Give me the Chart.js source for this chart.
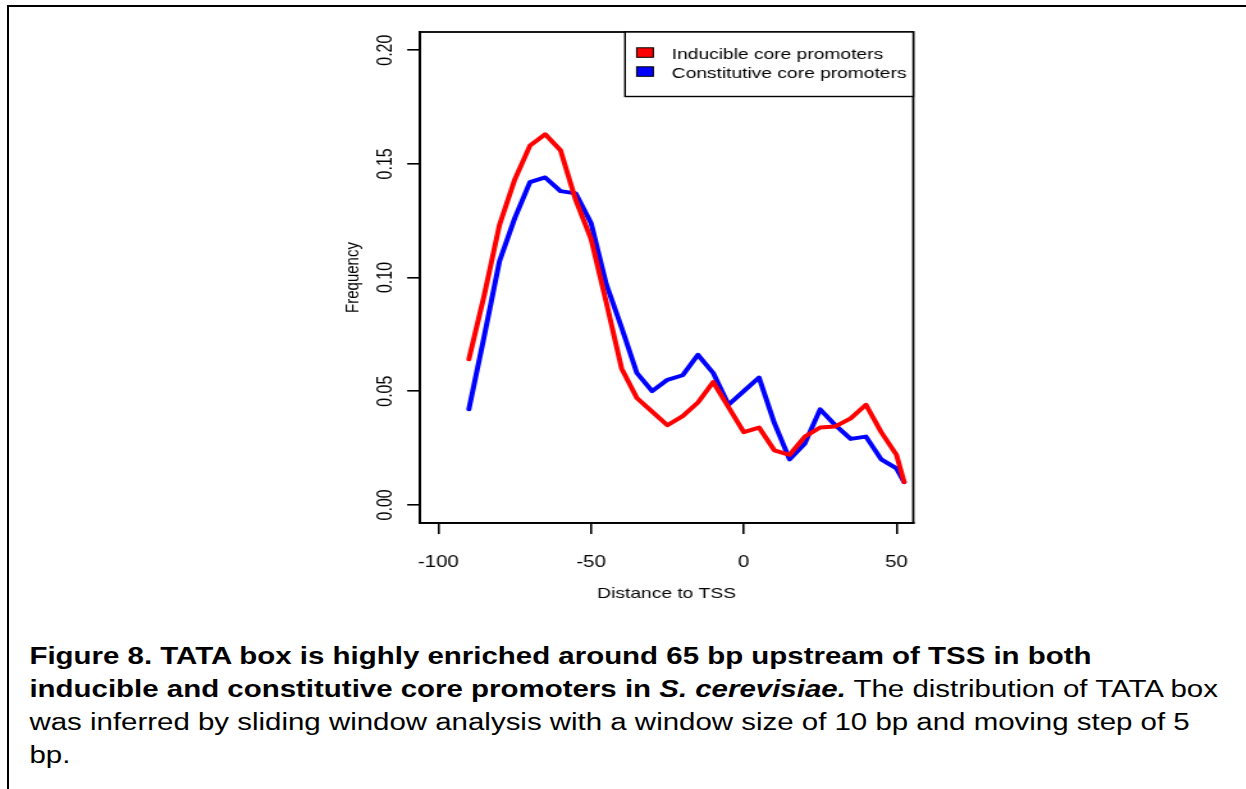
<!DOCTYPE html>
<html>
<head>
<meta charset="utf-8">
<title>TATA box distribution</title>
<script src="https://cdn.jsdelivr.net/npm/chart.js@4.4.1/dist/chart.umd.min.js"></script>
<style>
  body { margin: 0; width: 1246px; height: 789px; background: #fff; overflow: hidden; position: relative;
         font-family: "Liberation Sans", Arial, sans-serif; color: #000; }
  .marco { position: absolute; left: 7px; top: 5px; width: 1250px; height: 800px;
           border-top: 2px solid #000; border-left: 2px solid #000; }
  /* la figura original esta estirada en horizontal */
  .estirado { position: absolute; left: 0; width: 973px; transform: scaleX(1.28); transform-origin: 0 0; }
  #zona-grafico { top: 0; height: 610px; }
  #pie { top: 640px; font-size: 23px; line-height: 33px; padding-left: 23px; white-space: nowrap; }
</style>
</head>
<body>
<div class="marco"></div>
<div class="estirado" id="zona-grafico"><canvas id="grafico"></canvas></div>
<div class="estirado" id="pie"><b>Figure 8. TATA box is highly enriched around 65 bp upstream of TSS in both</b><br><b>inducible and constitutive core promoters in <i>S. cerevisiae.</i></b> The distribution of TATA box<br>was inferred by sliding window analysis with a window size of 10 bp and moving step of 5<br>bp.</div>
<script>
// Datos (distancia al TSS y frecuencia)
const distancia = [-90, -85, -80, -75, -70, -65, -60, -55, -50, -45, -40, -35, -30, -25, -20,
                   -15, -10, -5, 0, 5, 10, 15, 20, 25, 30, 35, 40, 45, 50, 52.5];
const inducibles = [0.064, 0.092, 0.123, 0.143, 0.158, 0.163, 0.156, 0.134, 0.117, 0.089,
                    0.060, 0.047, 0.041, 0.035, 0.039, 0.045, 0.054, 0.043, 0.032, 0.034,
                    0.024, 0.022, 0.030, 0.034, 0.0345, 0.038, 0.044, 0.032, 0.022, 0.010];
const constitutivos = [0.042, 0.074, 0.107, 0.126, 0.142, 0.144, 0.138, 0.137, 0.124, 0.097,
                       0.078, 0.058, 0.050, 0.055, 0.057, 0.066, 0.058, 0.044, 0.050, 0.056,
                       0.036, 0.020, 0.027, 0.042, 0.035, 0.029, 0.030, 0.020, 0.016, 0.010];
const series = ['Inducible core promoters', 'Constitutive core promoters'];
const colores = ['#ff0000', '#0000ff'];
const ticksX = [-100, -50, 0, 50];
const ticksY = [0, 0.05, 0.10, 0.15, 0.20];
const etiquetasY = ['0.00', '0.05', '0.10', '0.15', '0.20'];

const fuente = '"Liberation Sans", Arial, sans-serif';
Chart.defaults.font.family = fuente;
Chart.defaults.color = '#000';

// Caja alrededor del area y leyenda estilo R
const marcoYLeyenda = {
    id: 'marcoYLeyenda',
    afterDraw: (chart) => {
        const ctx = chart.ctx;
        const a = chart.chartArea;
        ctx.save();
        ctx.strokeStyle = '#000';
        ctx.lineWidth = 1.8;
        ctx.strokeRect(a.left, a.top, a.right - a.left, a.bottom - a.top);

        // leyenda arriba a la derecha
        const izq = 488.3, arriba = a.top, ancho = a.right - izq, alto = 64.5;
        ctx.fillStyle = '#fff';
        ctx.fillRect(izq, arriba, ancho, alto);
        ctx.lineWidth = 1.4;
        ctx.strokeRect(izq, arriba, ancho, alto);
        ctx.font = '15px ' + fuente;
        ctx.textBaseline = 'alphabetic';
        ctx.textAlign = 'left';
        series.forEach((nombre, i) => {
            const yBase = arriba + 27.3 + i * 19;
            ctx.fillStyle = colores[i];
            ctx.fillRect(497.4, yBase - 11.5, 13, 9.5);
            ctx.lineWidth = 1;
            ctx.strokeStyle = '#000';
            ctx.strokeRect(497.4, yBase - 11.5, 13, 9.5);
            ctx.fillStyle = '#000';
            ctx.fillText(nombre, 524.8, yBase);
        });
        ctx.restore();
    }
};

const ctx = document.getElementById('grafico').getContext('2d');
const chart = new Chart(ctx, {
    type: 'line',
    data: {
        datasets: [inducibles, constitutivos].map((valores, i) => ({
            label: series[i],
            data: distancia.map((x, j) => ({ x: x, y: valores[j] })),
            borderColor: colores[i],
            backgroundColor: colores[i],
            borderWidth: 4,
            pointRadius: 0,
            tension: 0,
            fill: false,
            borderCapStyle: 'round',
            borderJoinStyle: 'round'
        }))
    },
    options: {
        responsive: true,
        maintainAspectRatio: false,
        animation: false,
        layout: { padding: { left: 263, right: 259.5, top: 32, bottom: 0 } },
        plugins: { legend: { display: false }, tooltip: { enabled: false } },
        scales: {
            x: {
                type: 'linear',
                min: -106,
                max: 55.5,
                afterBuildTicks: (s) => { s.ticks = ticksX.map(v => ({ value: v })); },
                afterFit: (s) => { s.height = 87; s.paddingLeft = 0; s.paddingRight = 0; },
                ticks: { font: { size: 16 }, color: '#000', padding: 19, autoSkip: false, maxRotation: 0 },
                grid: { drawOnChartArea: false, drawTicks: true, tickLength: 11, color: '#000', lineWidth: 1.6 },
                border: { display: true, color: '#000', width: 1.8 },
                title: { display: true, text: 'Distance to TSS', font: { size: 15 }, color: '#000',
                         padding: { top: 0, bottom: 7 } }
            },
            y: {
                type: 'linear',
                min: -0.008,
                max: 0.208,
                afterBuildTicks: (s) => { s.ticks = ticksY.map(v => ({ value: v })); },
                afterFit: (s) => { s.width = 65.1; s.paddingTop = 0; s.paddingBottom = 0; },
                ticks: {
                    font: { size: 16 }, color: '#000', padding: 0.5, autoSkip: false,
                    minRotation: 90, maxRotation: 90, crossAlign: 'center',
                    callback: (v, i) => etiquetasY[i]
                },
                grid: { drawOnChartArea: false, drawTicks: true, tickLength: 10, color: '#000', lineWidth: 1.6 },
                border: { display: true, color: '#000', width: 1.8 },
                title: { display: true, text: 'Frequency', font: { size: 15 }, color: '#000',
                         padding: { top: 4, bottom: 0 } }
            }
        }
    },
    plugins: [marcoYLeyenda]
});
</script>
</body>
</html>
